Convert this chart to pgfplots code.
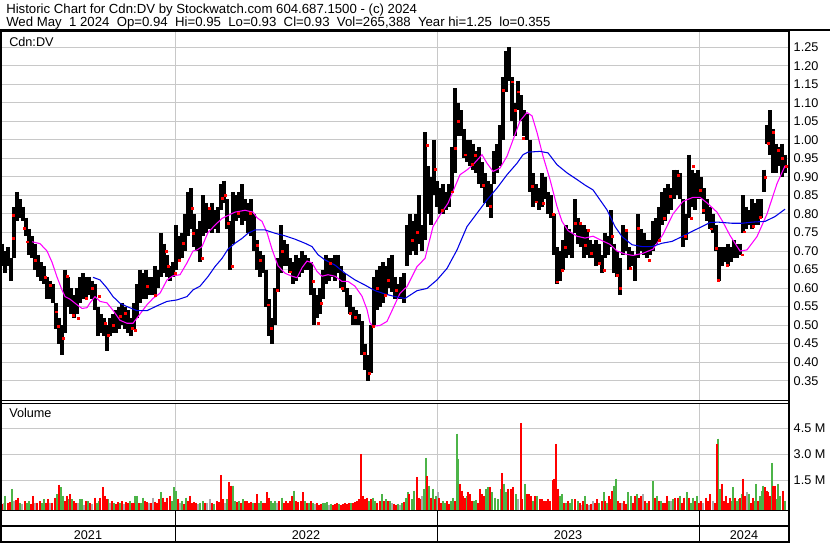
\documentclass[border=0pt]{standalone}
\usepackage{pgfplots}
\pgfplotsset{compat=1.18}
\usepackage{pgfplotstable}
\usepackage{fontspec}
\setmainfont{Liberation Sans}
\definecolor{gridc}{RGB}{200,200,200}
\definecolor{cred}{RGB}{255,0,0}
\definecolor{cgreen}{RGB}{76,180,72}
\definecolor{cgrey}{RGB}{170,170,170}
\definecolor{cmag}{RGB}{255,0,255}
\definecolor{cblue}{RGB}{0,0,230}

\pgfplotstableread{
x h l
2 0.72 0.66
5 0.70 0.64
8 0.71 0.66
11 0.68 0.62
14 0.82 0.68
17 0.86 0.78
20 0.84 0.79
23 0.82 0.78
26 0.79 0.74
29 0.76 0.69
32 0.74 0.68
35 0.72 0.65
38 0.69 0.63
41 0.67 0.62
44 0.66 0.61
47 0.63 0.57
50 0.62 0.57
53 0.61 0.56
56 0.56 0.49
59 0.52 0.45
62 0.50 0.42
65 0.65 0.48
68 0.63 0.55
71 0.60 0.53
74 0.58 0.52
77 0.60 0.53
80 0.63 0.56
83 0.64 0.57
86 0.63 0.57
89 0.63 0.58
92 0.62 0.57
95 0.61 0.54
98 0.55 0.47
101 0.53 0.48
104 0.52 0.47
107 0.50 0.43
110 0.52 0.47
113 0.53 0.48
116 0.54 0.48
119 0.55 0.49
122 0.56 0.50
125 0.55 0.49
128 0.54 0.48
131 0.52 0.47
134 0.56 0.49
137 0.61 0.52
140 0.65 0.56
143 0.64 0.57
146 0.65 0.57
149 0.63 0.58
152 0.63 0.58
155 0.66 0.58
158 0.65 0.60
161 0.75 0.63
164 0.72 0.64
167 0.69 0.63
170 0.66 0.62
173 0.67 0.63
176 0.77 0.65
179 0.74 0.67
182 0.75 0.68
185 0.80 0.70
188 0.86 0.74
191 0.87 0.76
194 0.80 0.71
197 0.76 0.70
200 0.78 0.67
203 0.85 0.74
206 0.83 0.75
209 0.82 0.76
212 0.83 0.75
215 0.81 0.76
218 0.82 0.75
221 0.88 0.81
224 0.89 0.83
227 0.84 0.76
230 0.78 0.65
233 0.86 0.72
236 0.85 0.78
239 0.86 0.79
242 0.88 0.77
245 0.84 0.78
248 0.83 0.75
251 0.84 0.74
254 0.80 0.70
257 0.73 0.65
260 0.70 0.63
263 0.69 0.64
266 0.65 0.55
269 0.57 0.47
272 0.52 0.45
275 0.60 0.50
278 0.68 0.59
281 0.77 0.64
284 0.73 0.66
287 0.72 0.66
290 0.68 0.64
293 0.67 0.61
296 0.69 0.62
299 0.68 0.63
302 0.70 0.64
305 0.69 0.65
308 0.68 0.65
311 0.67 0.58
314 0.60 0.50
317 0.58 0.52
320 0.60 0.53
323 0.65 0.57
326 0.69 0.61
329 0.68 0.62
332 0.68 0.63
335 0.69 0.62
338 0.69 0.64
341 0.66 0.60
344 0.64 0.59
347 0.60 0.55
350 0.58 0.53
353 0.55 0.50
356 0.54 0.50
359 0.53 0.50
362 0.51 0.42
365 0.45 0.38
368 0.42 0.35
371 0.50 0.37
374 0.63 0.50
377 0.65 0.54
380 0.66 0.55
383 0.67 0.56
386 0.66 0.58
389 0.68 0.60
392 0.69 0.59
395 0.63 0.57
398 0.61 0.57
401 0.63 0.57
404 0.64 0.56
407 0.77 0.66
410 0.80 0.69
413 0.78 0.70
416 0.80 0.69
419 0.85 0.72
422 0.77 0.70
425 1.02 0.73
428 0.93 0.80
431 0.90 0.77
434 1.00 0.85
437 0.89 0.82
440 0.87 0.80
443 0.88 0.80
446 0.86 0.81
449 0.88 0.82
452 0.98 0.86
455 1.14 0.91
458 1.10 1.01
461 1.08 1.01
464 1.03 0.95
467 1.00 0.94
470 1.00 0.93
473 0.99 0.92
476 0.97 0.91
479 0.98 0.88
482 0.94 0.87
485 0.91 0.83
488 0.89 0.82
491 0.88 0.79
494 0.97 0.88
497 0.99 0.91
500 1.04 0.93
503 1.17 1.00
506 1.24 1.13
509 1.25 1.16
512 1.17 1.05
515 1.10 1.01
518 1.16 1.08
521 1.12 1.05
524 1.08 1.01
527 1.07 1.00
530 1.00 0.86
533 0.91 0.82
536 0.88 0.83
539 0.87 0.81
542 0.91 0.82
545 0.90 0.84
548 0.86 0.80
551 0.85 0.79
554 0.80 0.69
557 0.71 0.61
560 0.70 0.62
563 0.73 0.65
566 0.77 0.68
569 0.76 0.69
572 0.75 0.68
575 0.84 0.75
578 0.79 0.72
581 0.77 0.71
584 0.77 0.68
587 0.76 0.69
590 0.73 0.68
593 0.72 0.68
596 0.73 0.66
599 0.72 0.67
602 0.69 0.64
605 0.75 0.68
608 0.74 0.69
611 0.81 0.71
614 0.72 0.64
617 0.70 0.63
620 0.68 0.58
623 0.77 0.69
626 0.76 0.70
629 0.71 0.65
632 0.70 0.66
635 0.69 0.62
638 0.80 0.68
641 0.76 0.70
644 0.75 0.69
647 0.73 0.68
650 0.73 0.69
653 0.78 0.70
656 0.79 0.72
659 0.82 0.73
662 0.86 0.77
665 0.87 0.78
668 0.88 0.80
671 0.87 0.81
674 0.92 0.84
677 0.92 0.85
680 0.91 0.84
683 0.84 0.71
686 0.80 0.73
689 0.96 0.79
692 0.92 0.82
695 0.91 0.81
698 0.92 0.84
701 0.90 0.84
704 0.87 0.80
707 0.84 0.78
710 0.82 0.76
713 0.80 0.75
716 0.77 0.70
719 0.71 0.62
722 0.71 0.66
725 0.71 0.67
728 0.72 0.66
731 0.71 0.67
734 0.73 0.68
737 0.72 0.68
740 0.72 0.69
743 0.85 0.75
746 0.82 0.76
749 0.81 0.77
752 0.84 0.76
755 0.83 0.77
758 0.84 0.77
761 0.84 0.79
764 0.92 0.86
767 1.04 0.99
770 1.08 0.96
773 1.03 0.91
776 0.99 0.91
779 0.98 0.93
782 0.99 0.90
785 0.96 0.91
}\price

\pgfplotstableread{
x y
13 0.797
13 0.735
24 0.762
27 0.725
35 0.676
45 0.63
50 0.608
56 0.536
58 0.496
63 0.465
67 0.631
73 0.527
78 0.519
86 0.573
92 0.60
99 0.577
105 0.505
108 0.473
113 0.50
120 0.523
125 0.532
132 0.492
135 0.487
147 0.604
155 0.581
166 0.70
168 0.658
175 0.640
179 0.676
183 0.722
192 0.816
193 0.749
202 0.68
209 0.815
222 0.842
225 0.85
228 0.774
232 0.658
238 0.801
250 0.801
257 0.716
260 0.676
268 0.555
271 0.491
277 0.595
282 0.70
290 0.644
313 0.618
318 0.505
321 0.559
330 0.667
342 0.60
350 0.532
355 0.52
364 0.424
369 0.37
373 0.496
377 0.60
385 0.58
388 0.62
396 0.595
412 0.73
417 0.75
427 0.986
435 0.92
442 0.81
452 0.86
455 0.977
458 1.05
465 0.96
472 0.935
475 0.959
483 0.878
490 0.82
503 1.135
512 1.157
515 1.081
518 1.13
523 1.004
532 0.874
536 0.833
543 0.83
553 0.80
557 0.617
562 0.649
565 0.71
575 0.774
580 0.774
585 0.716
588 0.757
591 0.694
599 0.667
604 0.649
612 0.739
617 0.635
620 0.60
626 0.757
630 0.653
638 0.761
649 0.676
659 0.73
664 0.788
670 0.847
678 0.905
685 0.739
691 0.788
693 0.928
700 0.865
703 0.81
711 0.76
716 0.708
718 0.62
727 0.662
742 0.69
744 0.752
753 0.766
760 0.79
765 0.90
768 0.991
773 1.02
778 0.973
782 0.95
786 0.928
}\closes

\pgfplotstableread{
x y
32 0.725
40 0.72
47 0.70
52 0.67
57 0.63
62 0.595
65 0.577
70 0.57
77 0.555
82 0.545
87 0.547
90 0.56
95 0.577
100 0.564
107 0.56
113 0.54
120 0.513
127 0.505
133 0.505
140 0.53
147 0.555
153 0.572
160 0.586
167 0.622
173 0.633
180 0.636
187 0.668
193 0.70
197 0.703
202 0.712
208 0.75
215 0.77
222 0.788
228 0.796
235 0.805
245 0.81
253 0.805
257 0.79
262 0.78
267 0.75
272 0.705
278 0.66
285 0.64
292 0.632
297 0.628
302 0.655
307 0.673
312 0.668
317 0.645
322 0.632
328 0.636
335 0.632
342 0.618
348 0.618
355 0.605
362 0.578
367 0.542
370 0.506
373 0.497
380 0.499
387 0.51
393 0.545
400 0.586
407 0.604
417 0.658
425 0.68
433 0.766
440 0.797
448 0.829
455 0.874
460 0.906
467 0.919
473 0.933
482 0.96
487 0.937
493 0.915
500 0.924
507 0.956
513 1.00
520 1.051
527 1.074
532 1.065
537 1.02
543 0.956
550 0.893
557 0.82
562 0.78
568 0.755
577 0.74
585 0.735
593 0.74
602 0.728
610 0.718
617 0.70
625 0.692
633 0.688
643 0.694
653 0.705
663 0.745
673 0.80
683 0.834
693 0.845
700 0.845
707 0.83
717 0.805
723 0.778
730 0.742
740 0.70
747 0.703
757 0.739
767 0.80
777 0.882
785 0.93
}\magma

\pgfplotstableread{
x y
93 0.629
100 0.622
107 0.60
113 0.577
120 0.559
127 0.55
137 0.539
147 0.539
157 0.552
167 0.564
177 0.568
187 0.577
193 0.595
200 0.605
208 0.631
215 0.658
222 0.68
228 0.705
235 0.721
242 0.734
248 0.748
255 0.757
265 0.757
275 0.748
285 0.741
295 0.732
305 0.721
312 0.712
318 0.69
325 0.676
335 0.662
345 0.64
355 0.622
365 0.608
375 0.593
385 0.584
395 0.577
405 0.572
417 0.593
427 0.599
437 0.622
447 0.653
457 0.703
467 0.766
477 0.802
487 0.838
497 0.87
507 0.906
517 0.937
523 0.96
528 0.967
540 0.969
548 0.965
557 0.933
567 0.911
577 0.893
585 0.878
593 0.865
600 0.838
607 0.811
615 0.766
622 0.739
632 0.717
642 0.712
652 0.712
662 0.721
672 0.726
682 0.739
692 0.753
702 0.766
710 0.777
718 0.778
732 0.775
742 0.775
752 0.778
765 0.78
775 0.793
785 0.813
}\mablue

\pgfplotstableread{
x v
2 0.15
8 0.2
10 0.25
16 0.35
18 0.5
25 0.3
31 0.15
33 0.6
37 0.2
40 0.3
46 0.2
48 0.4
52 0.2
55 0.5
59 1.25
65 0.3
67 0.6
70 0.7
74 0.3
76 0.2
86 0.3
90 0.2
95 0.5
100 0.5
103 1.1
105 0.6
107 0.45
112 0.3
116 0.15
118 0.25
122 0.3
126 0.25
128 0.2
132 0.2
134 0.2
139 0.2
145 0.3
147 0.25
151 0.2
155 0.25
157 0.2
159 0.4
163 0.5
165 0.25
167 0.5
170 0.6
178 0.4
184 0.15
188 0.3
190 0.6
192 0.2
194 0.25
196 0.2
205 0.2
212 0.2
217 0.3
219 0.25
221 1.8
223 0.4
229 1.4
231 1.2
237 0.25
241 0.2
245 0.3
247 0.3
249 0.2
251 0.25
255 0.2
257 0.7
263 0.2
265 0.2
267 0.8
269 0.5
279 0.3
284 0.2
286 0.3
288 0.2
290 0.3
292 0.6
296 0.3
298 0.25
301 0.3
303 0.8
307 0.2
311 0.3
317 0.2
319 0.1
321 0.15
333 0.1
335 0.15
337 0.2
341 0.1
343 0.15
345 0.2
347 0.15
349 0.2
353 0.2
355 0.25
357 0.3
359 0.4
361 3.0
363 0.6
365 0.4
367 0.5
371 0.4
377 0.2
380 0.3
384 0.3
388 0.3
394 0.15
396 0.1
404 0.25
409 0.7
417 1.7
419 0.5
420 0.4
427 1.75
431 0.5
435 0.4
439 0.5
441 0.2
447 0.3
449 0.15
455 0.3
460 1.3
462 0.9
463 0.6
465 0.5
468 0.8
470 0.7
472 0.3
478 0.2
480 1.0
482 0.7
484 0.6
490 1.1
502 1.9
508 1.0
511 1.0
513 1.1
521 4.8
522 0.4
527 0.7
529 0.7
531 0.6
535 0.6
540 0.4
542 0.4
544 0.3
546 0.3
548 0.4
550 0.3
553 1.5
554 1.6
556 3.6
558 1.0
564 0.2
568 0.3
575 0.4
580 0.2
583 0.3
587 0.15
591 0.15
595 0.2
597 0.4
602 0.3
605 0.3
609 0.6
611 0.4
612 0.9
618 0.3
620 0.2
624 0.3
626 0.15
633 0.2
635 0.6
639 0.5
641 0.6
645 0.3
649 0.3
655 0.5
659 0.3
663 0.2
665 0.2
667 0.6
675 0.5
678 0.5
682 0.2
684 0.5
689 0.5
695 0.3
699 0.2
701 0.3
706 0.5
708 0.3
710 0.7
715 0.2
717 3.6
722 1.3
724 0.3
726 0.6
728 0.2
730 0.5
735 0.5
740 0.5
743 1.6
745 0.6
751 0.2
753 0.5
758 0.3
765 1.1
767 0.9
768 0.8
770 0.6
773 1.2
775 1.2
783 0.9
}\volred

\pgfplotstableread{
x v
5 0.6
12 1.0
20 0.2
27 0.2
29 0.3
42 0.2
44 0.4
57 0.7
61 1.1
63 0.6
69 0.4
72 0.4
80 0.4
82 0.4
88 0.3
97 0.2
99 0.3
108 0.4
114 0.2
120 0.2
130 0.3
135 0.6
137 0.6
141 0.2
143 0.5
161 0.8
172 0.3
174 1.1
176 0.9
182 0.3
186 0.5
200 0.2
203 0.3
214 0.15
227 0.4
233 1.2
235 0.3
239 0.3
243 0.4
253 0.2
259 0.2
261 0.3
271 0.3
273 0.2
275 0.3
282 0.5
294 0.9
305 0.3
309 0.2
313 0.2
323 0.2
325 0.2
327 0.25
331 0.15
339 0.15
351 0.2
369 0.3
373 0.5
375 0.3
382 0.7
386 0.4
390 0.3
398 0.15
402 0.2
406 0.5
408 0.8
412 0.4
414 0.9
424 1.0
426 2.8
429 1.2
433 1.0
436 0.6
443 0.3
445 0.2
451 0.3
453 0.5
457 4.2
458 2.75
467 0.6
474 0.3
476 0.35
486 1.0
488 1.1
492 0.8
495 0.5
498 0.4
501 1.0
504 1.3
506 0.8
516 0.7
525 1.3
533 0.3
537 0.6
560 0.6
562 0.7
566 0.2
570 0.2
572 0.4
578 0.3
585 0.6
599 0.2
604 0.8
607 0.2
614 1.2
616 1.6
628 0.8
631 0.6
637 0.7
647 0.2
653 1.45
657 0.6
661 0.3
669 0.3
673 0.4
680 0.6
687 0.8
691 0.2
693 0.5
697 0.6
718 3.9
720 1.0
731 0.3
733 1.1
737 0.3
739 0.4
742 0.7
749 0.7
755 0.3
756 1.3
760 0.6
762 0.9
763 1.2
772 2.5
777 0.4
778 1.3
780 0.6
785 0.3
}\volgreen

\pgfplotstableread{
x v
4 0.2
14 0.3
22 0.15
35 0.2
50 0.2
78 0.2
84 0.1
92 0.15
110 0.2
124 0.15
149 0.2
153 0.5
180 0.2
198 0.15
207 0.2
210 0.4
225 0.2
277 0.2
315 0.15
329 0.1
392 0.2
400 0.1
422 0.6
438 0.8
518 0.4
582 0.1
589 0.1
593 0.3
622 0.2
643 0.7
671 0.3
703 0.2
713 0.3
747 0.8
}\volgrey

\pgfplotsset{
  panel/.style={
    scale only axis, anchor=north west, width=591pt,
    xmin=1, xmax=789,
    xtick={175,437,699}, xticklabels={},
    yticklabel pos=right,
    major tick length=0pt,
    grid=major, grid style={gridc, line width=0.75pt},
    axis line style={black, line width=0.75pt},
    tick label style={font=\fontsize{9.5}{11}\selectfont},
  },
  rangebar/.style={draw=none, mark=none,
    error bars/.cd, y dir=minus, y explicit, error mark=none,
    error bar style={draw=#1, line width=1.1pt}},
}

\begin{document}
\begin{tikzpicture}
\useasboundingbox (0,0) rectangle (622.5pt,-407.25pt);
\fill[white] (0,0) rectangle (622.5pt,-407.25pt);

% price panel
\begin{axis}[panel,
  at={(0.75pt,-23.25pt)}, height=276.75pt,
  ymin=0.2978, ymax=1.294,
  ytick={0.35,0.40,0.45,0.50,0.55,0.60,0.65,0.70,0.75,0.80,0.85,0.90,0.95,1.00,1.05,1.10,1.15,1.20,1.25},
  y tick label style={/pgf/number format/fixed, /pgf/number format/fixed zerofill,
    /pgf/number format/precision=2, /pgf/number format/assume math mode=true},
]
\addplot[draw=none, mark=none,
  error bars/.cd, y dir=minus, y explicit, error mark=none,
  error bar style={draw=black, line width=2.4pt}]
  table[x=x, y=h, y error minus expr=\thisrow{h}-\thisrow{l}]{\price};
\addplot[only marks, mark=square*, mark size=0.7pt, cred, mark options={draw=none, fill=cred}] table[x=x, y=y]{\closes};
\addplot[cmag, line width=0.8pt, mark=none] table[x=x, y=y]{\magma};
\addplot[cblue, line width=0.8pt, mark=none] table[x=x, y=y]{\mablue};
\end{axis}

% volume panel
\begin{axis}[panel,
  at={(0.75pt,-302.25pt)}, height=80.25pt,
  ymin=-0.2135, ymax=5.96,
  ytick={1.5,3,4.5}, yticklabels={1.5 M,3.0 M,4.5 M},
]
\addplot[rangebar=cgrey] table[x=x, y=v, y error minus expr=\thisrow{v}+0.2135]{\volgrey};
\addplot[rangebar=cgreen] table[x=x, y=v, y error minus expr=\thisrow{v}+0.2135]{\volgreen};
\addplot[rangebar=cred] table[x=x, y=v, y error minus expr=\thisrow{v}+0.2135]{\volred};
\end{axis}

\begin{scope}[x=0.75pt, y=-0.75pt]
  % frame pieces
  \fill[black] (0,29) rectangle (830,31);
  \fill[black] (0,29) rectangle (2,543);
  \fill[black] (788,29) rectangle (790,543);
  \fill[black] (0,509.5) rectangle (790,511);
  \fill[black] (0,525) rectangle (790,527);
  \fill[black] (0,541) rectangle (790,543);
  \foreach \xx in {175,437,699} {\draw[black, line width=0.75pt] (\xx,510) -- (\xx,542);}
  % header
  \begin{scope}[every node/.style={anchor=base west, inner sep=0pt, font=\fontsize{9.9}{11}\selectfont}]
    \node at (6,13.5) {Historic Chart for Cdn:DV by Stockwatch.com 604.687.1500 - (c) 2024};
    \node at (6,26) {Wed May\ \ 1 2024\ \ Op=0.94\ \ Hi=0.95\ \ Lo=0.93\ \ Cl=0.93\ \ Vol=265,388\ \ Year hi=1.25\ \ lo=0.355};
  \end{scope}
  \begin{scope}[every node/.style={anchor=base west, inner sep=0pt, font=\fontsize{9.5}{11}\selectfont}]
    \node at (9,46) {Cdn:DV};
    \node at (9,417.5) {Volume};
  \end{scope}
  \begin{scope}[every node/.style={anchor=base, inner sep=0pt, font=\fontsize{9.5}{11}\selectfont}]
    \node at (88,539) {2021};
    \node at (306,539) {2022};
    \node at (568,539) {2023};
    \node at (744,539) {2024};
  \end{scope}
\end{scope}
\end{tikzpicture}
\end{document}
